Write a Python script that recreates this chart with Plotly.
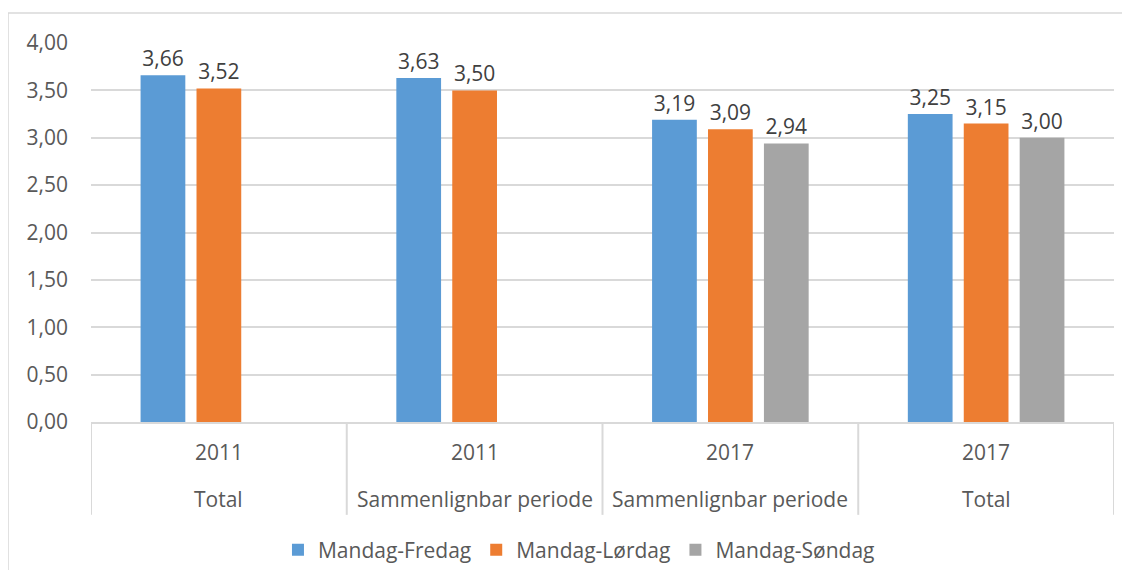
import plotly.graph_objects as go

years = ["2011", "2011", "2017", "2017"]
periods = ["Total", "Sammenlignbar periode", "Sammenlignbar periode", "Total"]
mandag_fredag = [3.66, 3.63, 3.19, 3.25]
mandag_lordag = [3.52, 3.50, 3.09, 3.15]
mandag_sondag = [None, None, 2.94, 3.00]

series = [
    ("Mandag-Fredag", mandag_fredag, "#5B9BD5"),
    ("Mandag-Lørdag", mandag_lordag, "#ED7D31"),
    ("Mandag-Søndag", mandag_sondag, "#A5A5A5"),
]

font = "Open Sans"
fs = 21
grey_txt = "#595959"
line_col = "#d9d9d9"

x = list(range(len(years)))

fig = go.Figure()
for name, vals, col in series:
    fig.add_trace(go.Bar(
        x=x, y=vals, name=name,
        marker=dict(color=col, line=dict(width=0)),
        texttemplate="%{y:.2f}", textposition="outside",
        textfont=dict(size=fs, color="#404040", family=font),
        cliponaxis=False,
    ))

# multi-level category labels and dividers (Excel style)
ann = []
for i, (yr, pr) in enumerate(zip(years, periods)):
    ann.append(dict(x=i, y=-0.079, xref="x", yref="paper", text=yr, showarrow=False,
                    yanchor="middle", font=dict(size=fs, color=grey_txt, family=font)))
    ann.append(dict(x=i, y=-0.203, xref="x", yref="paper", text=pr, showarrow=False,
                    yanchor="middle", font=dict(size=fs, color=grey_txt, family=font)))

shapes = []
for k in range(len(years) + 1):
    shapes.append(dict(type="line", xref="x", yref="paper", x0=k - 0.5, x1=k - 0.5,
                       y0=0, y1=-0.245, line=dict(color=line_col, width=2)))
# outer chart border
shapes.append(dict(type="rect", xref="paper", yref="paper", x0=-0.0811, x1=1.2,
                   y0=-1, y1=1.079, line=dict(color=line_col, width=1.5)))

# page body has an 8px margin; keep the figure inside the window
fig.update_layout(
    width=1114, height=562,
    margin=dict(l=83, r=8, t=35, b=148, autoexpand=False),
    paper_bgcolor="white", plot_bgcolor="white",
    separators=", ",
    barmode="group", bargap=0.344, bargroupgap=0.2,
    font=dict(family=font, size=fs, color=grey_txt),
    xaxis=dict(range=[-0.5, 3.5], showticklabels=False, showgrid=False, zeroline=False,
               showline=True, linecolor=line_col, linewidth=2, ticks="", automargin=False),
    yaxis=dict(range=[0, 4], dtick=0.5, tickformat=".2f", showgrid=True, gridcolor=line_col,
               gridwidth=1.5, zeroline=False, ticks="", tickfont=dict(size=fs, color=grey_txt),
               ticklabelstandoff=22, automargin=False),
    legend=dict(orientation="h", x=0.477, xanchor="center", y=-0.338, yanchor="middle",
                font=dict(size=fs, color=grey_txt), itemwidth=30, traceorder="normal"),
    annotations=ann,
    shapes=shapes,
)

fig.write_html("out.html")
